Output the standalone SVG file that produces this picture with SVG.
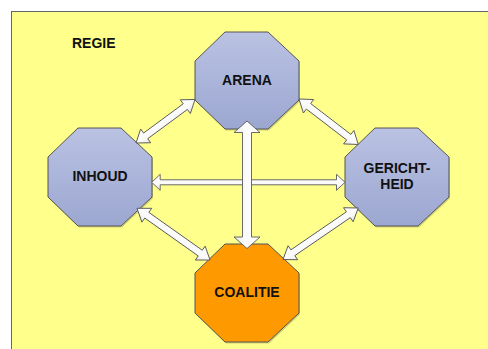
<svg xmlns="http://www.w3.org/2000/svg" width="488" height="349" viewBox="0 0 488 349">
<defs>
<linearGradient id="blue" x1="0" y1="0" x2="0" y2="1">
<stop offset="0" stop-color="#bac2e3"/>
<stop offset="1" stop-color="#9ca7d1"/>
</linearGradient>
<linearGradient id="arr" x1="0" y1="0" x2="0" y2="1">
<stop offset="0" stop-color="#ffffff"/>
<stop offset="0.6" stop-color="#fafafa"/>
<stop offset="1" stop-color="#e6e6e6"/>
</linearGradient>
<style>
.oct{stroke:#555555;stroke-width:1}
.blue{fill:url(#blue)}
.orange{fill:#ff9900}
.shadow{fill:#000000;opacity:0.18}
.lbl{font-family:"Liberation Sans",Arial,sans-serif;font-weight:bold;font-size:14px;fill:#111111;text-anchor:middle}
.arrow{fill:url(#arr);stroke:#5a5a5a;stroke-width:0.9;stroke-linejoin:miter}
</style>
</defs>
<rect x="11.5" y="11.5" width="500" height="400" fill="#ffff8c" stroke="#666666" stroke-width="1"/>
<text x="72" y="48" class="lbl" style="text-anchor:start">REGIE</text>

<g id="arena">
<polygon class="shadow" points="226,33.5 269,33.5 300,62.5 300,101.5 269,130.5 226,130.5 196,101.5 196,62.5"/>
<polygon class="oct blue" points="225,32 268,32 299,61 299,100 268,129 225,129 195,100 195,61"/>
<text x="247" y="85" class="lbl">ARENA</text>
</g>
<g id="inhoud">
<polygon class="shadow" points="79,129.5 122,129.5 153,158.5 153,198.5 122,227.5 79,227.5 49,198.5 49,158.5"/>
<polygon class="oct blue" points="78,128 121,128 152,157 152,197 121,226 78,226 48,197 48,157"/>
<text x="100" y="181" class="lbl">INHOUD</text>
</g>
<g id="gerichtheid">
<polygon class="shadow" points="376,129.5 419,129.5 450,158.5 450,198.5 419,227.5 376,227.5 346,198.5 346,158.5"/>
<polygon class="oct blue" points="375,128 418,128 449,157 449,197 418,226 375,226 345,197 345,157"/>
<text x="397" y="173" class="lbl">GERICHT-</text>
<text x="397" y="189" class="lbl">HEID</text>
</g>
<g id="coalitie">
<polygon class="shadow" points="226,245.5 269,245.5 300,274.5 300,314.5 269,343.5 226,343.5 196,314.5 196,274.5"/>
<polygon class="oct orange" points="225,244 268,244 299,273 299,313 268,342 225,342 195,313 195,273"/>
<text x="247" y="297" class="lbl">COALITIE</text>
</g>

<g id="connectors">
<path class="arrow" transform="translate(151.7,182.3)" d="M0,0 L8.5,-8 L8.5,-2.5 L184.8,-2.5 L184.8,-8 L193.3,0 L184.8,8 L184.8,2.5 L8.5,2.5 L8.5,8 Z"/>
<path class="arrow" transform="translate(247,121) rotate(90)" d="M0,0 L11.5,-13 L11.5,-4.5 L116,-4.5 L116,-13 L127.5,0 L116,13 L116,4.5 L11.5,4.5 L11.5,13 Z"/>
<path class="arrow" transform="translate(136,143) rotate(-36.4)" d="M0,0 L12,-8.5 L12,-3.5 L61.3,-3.5 L61.3,-8.5 L73.3,0 L61.3,8.5 L61.3,3.5 L12,3.5 L12,8.5 Z"/>
<path class="arrow" transform="translate(299,99) rotate(37.5)" d="M0,0 L12,-8.5 L12,-3.5 L62.7,-3.5 L62.7,-8.5 L74.7,0 L62.7,8.5 L62.7,3.5 L12,3.5 L12,8.5 Z"/>
<path class="arrow" transform="translate(137,208.3) rotate(35.3)" d="M0,0 L12,-8.5 L12,-3.5 L77.5,-3.5 L77.5,-8.5 L89.5,0 L77.5,8.5 L77.5,3.5 L12,3.5 L12,8.5 Z"/>
<path class="arrow" transform="translate(283,259.5) rotate(-34.4)" d="M0,0 L12,-8.5 L12,-3.5 L79.2,-3.5 L79.2,-8.5 L91.2,0 L79.2,8.5 L79.2,3.5 L12,3.5 L12,8.5 Z"/>
</g>
</svg>
